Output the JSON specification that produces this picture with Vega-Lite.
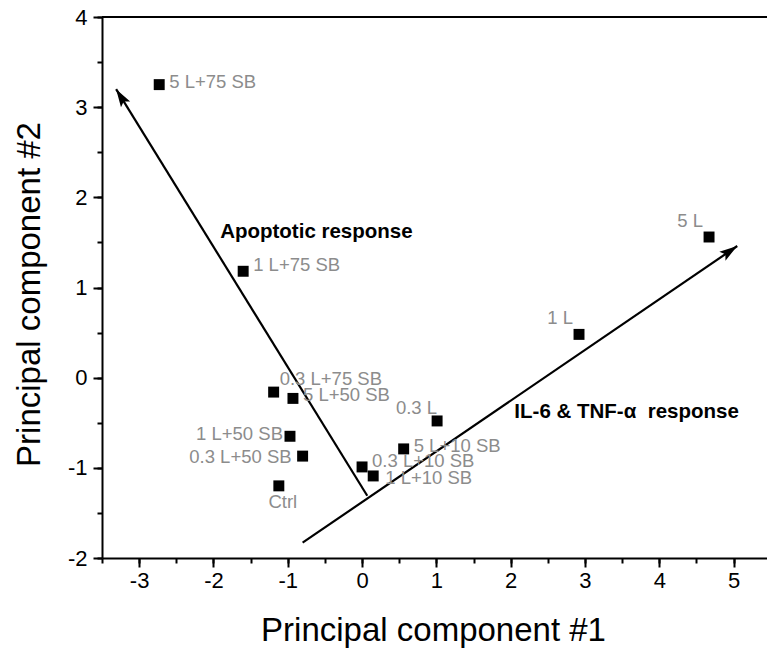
{
  "$schema": "https://vega.github.io/schema/vega-lite/v6.json",
  "width": 665,
  "height": 541,
  "autosize": {"type": "none"},
  "padding": {"left": 102, "top": 17, "right": 0, "bottom": 104},
  "background": "white",
  "config": {
    "view": {"stroke": null},
    "font": "Liberation Sans",
    "axis": {"grid": false, "domainColor": "black", "tickColor": "black", "labelColor": "black", "titleColor": "black", "domainWidth": 2, "tickWidth": 2, "labelFont": "Liberation Sans", "titleFont": "Liberation Sans", "titleFontWeight": "normal"}
  },
  "datasets": {
    "pts": [
      {"label": "5 L+75 SB", "pc1": -2.73, "pc2": 3.25},
      {"label": "1 L+75 SB", "pc1": -1.60, "pc2": 1.18},
      {"label": "0.3 L+75 SB", "pc1": -1.19, "pc2": -0.16},
      {"label": "5 L+50 SB", "pc1": -0.93, "pc2": -0.23},
      {"label": "1 L+50 SB", "pc1": -0.97, "pc2": -0.65},
      {"label": "0.3 L+50 SB", "pc1": -0.80, "pc2": -0.87},
      {"label": "Ctrl", "pc1": -1.12, "pc2": -1.20},
      {"label": "0.3 L+10 SB", "pc1": 0.00, "pc2": -0.99},
      {"label": "1 L+10 SB", "pc1": 0.15, "pc2": -1.09},
      {"label": "5 L+10 SB", "pc1": 0.56, "pc2": -0.79},
      {"label": "0.3 L", "pc1": 1.01, "pc2": -0.48},
      {"label": "1 L", "pc1": 2.92, "pc2": 0.48},
      {"label": "5 L", "pc1": 4.67, "pc2": 1.56}
    ],
    "arrows": [
      {"name": "IL-6", "x1": -0.80, "y1": -1.83, "x2": 5.05, "y2": 1.46},
      {"name": "Apoptotic", "x1": 0.07, "y1": -1.31, "x2": -3.31, "y2": 3.20}
    ],
    "notes": [
      {"note": "Apoptotic response", "nx": -1.91, "ny": 1.62},
      {"note": "IL-6 & TNF-α\u00a0 response", "nx": 2.05, "ny": -0.38}
    ],
    "frame": [{"top": 4}]
  },
  "layer": [
    {
      "data": {"name": "frame"},
      "mark": {"type": "rule", "color": "black", "strokeWidth": 2},
      "encoding": {
        "y": {"field": "top", "type": "quantitative", "scale": {"domain": [-2, 4], "nice": false, "zero": false}, "axis": null}
      }
    },
    {
      "data": {"name": "arrows"},
      "mark": {"type": "rule", "color": "black", "strokeWidth": 2.2},
      "encoding": {
        "x": {"field": "x1", "type": "quantitative", "scale": {"domain": [-3.5, 5.45], "nice": false, "zero": false},
              "axis": {"orient": "bottom", "values": [-3.5, -3, -2.5, -2, -1.5, -1, -0.5, 0, 0.5, 1, 1.5, 2, 2.5, 3, 3.5, 4, 4.5, 5], "labels": false, "title": null, "domain": false, "tickSize": 5}},
        "y": {"field": "y1", "type": "quantitative", "scale": {"domain": [-2, 4], "nice": false, "zero": false},
              "axis": {"orient": "left", "values": [-2, -1.5, -1, -0.5, 0, 0.5, 1, 1.5, 2, 2.5, 3, 3.5, 4], "labels": false, "title": null, "domain": false, "tickSize": 5}},
        "x2": {"field": "x2"},
        "y2": {"field": "y2"}
      }
    },
    {
      "data": {"name": "arrows"},
      "transform": [{"filter": "datum.name === 'IL-6'"}],
      "mark": {"type": "point", "shape": "M0,0L0.3,1L0,0.8L-0.3,1Z", "filled": true, "color": "black", "opacity": 1, "size": 1296, "angle": 55.7},
      "encoding": {
        "x": {"field": "x2", "type": "quantitative", "axis": null},
        "y": {"field": "y2", "type": "quantitative", "axis": null}
      }
    },
    {
      "data": {"name": "arrows"},
      "transform": [{"filter": "datum.name === 'Apoptotic'"}],
      "mark": {"type": "point", "shape": "M0,0L0.3,1L0,0.8L-0.3,1Z", "filled": true, "color": "black", "opacity": 1, "size": 1296, "angle": 328.3},
      "encoding": {
        "x": {"field": "x2", "type": "quantitative", "axis": null},
        "y": {"field": "y2", "type": "quantitative", "axis": null}
      }
    },
    {
      "data": {"name": "pts"},
      "mark": {"type": "square", "color": "black", "filled": true, "opacity": 1, "size": 120},
      "encoding": {
        "x": {"field": "pc1", "type": "quantitative",
              "axis": {"orient": "bottom", "values": [-3, -2, -1, 0, 1, 2, 3, 4, 5], "labelExpr": "toString(datum.value)", "tickSize": 9, "labelFontSize": 22, "labelPadding": 3, "title": "Principal component #1", "titleFontSize": 33, "titleX": 331, "titleY": 82, "titleBaseline": "alphabetic", "titleAlign": "center", "labelFlush": false}},
        "y": {"field": "pc2", "type": "quantitative",
              "axis": {"orient": "left", "values": [-2, -1, 0, 1, 2, 3, 4], "labelExpr": "toString(datum.value)", "tickSize": 9, "labelFontSize": 22, "labelPadding": 6, "title": "Principal component #2", "titleFontSize": 33, "titleX": -63, "titleY": 277, "titleAngle": -90, "titleBaseline": "alphabetic", "titleAlign": "center", "labelFlush": false}}
      }
    },
    {
      "data": {"name": "pts"},
      "transform": [{"filter": {"field": "label", "oneOf": ["5 L+75 SB", "5 L+50 SB", "5 L+10 SB"]}}],
      "mark": {"type": "text", "align": "left", "baseline": "middle", "dx": 10, "dy": -3, "fontSize": 18.5, "color": "#8c8c8c"},
      "encoding": {"x": {"field": "pc1", "type": "quantitative", "axis": null}, "y": {"field": "pc2", "type": "quantitative", "axis": null}, "text": {"field": "label"}}
    },
    {
      "data": {"name": "pts"},
      "transform": [{"filter": {"field": "label", "oneOf": ["1 L+75 SB", "0.3 L+10 SB"]}}],
      "mark": {"type": "text", "align": "left", "baseline": "middle", "dx": 10, "dy": -6, "fontSize": 18.5, "color": "#8c8c8c"},
      "encoding": {"x": {"field": "pc1", "type": "quantitative", "axis": null}, "y": {"field": "pc2", "type": "quantitative", "axis": null}, "text": {"field": "label"}}
    },
    {
      "data": {"name": "pts"},
      "transform": [{"filter": {"field": "label", "oneOf": ["1 L+10 SB"]}}],
      "mark": {"type": "text", "align": "left", "baseline": "middle", "dx": 12, "dy": 2, "fontSize": 18.5, "color": "#8c8c8c"},
      "encoding": {"x": {"field": "pc1", "type": "quantitative", "axis": null}, "y": {"field": "pc2", "type": "quantitative", "axis": null}, "text": {"field": "label"}}
    },
    {
      "data": {"name": "pts"},
      "transform": [{"filter": {"field": "label", "oneOf": ["0.3 L+75 SB"]}}],
      "mark": {"type": "text", "align": "left", "baseline": "middle", "dx": 6, "dy": -13, "fontSize": 18.5, "color": "#8c8c8c"},
      "encoding": {"x": {"field": "pc1", "type": "quantitative", "axis": null}, "y": {"field": "pc2", "type": "quantitative", "axis": null}, "text": {"field": "label"}}
    },
    {
      "data": {"name": "pts"},
      "transform": [{"filter": {"field": "label", "oneOf": ["1 L+50 SB"]}}],
      "mark": {"type": "text", "align": "right", "baseline": "middle", "dx": -7, "dy": -2, "fontSize": 18.5, "color": "#8c8c8c"},
      "encoding": {"x": {"field": "pc1", "type": "quantitative", "axis": null}, "y": {"field": "pc2", "type": "quantitative", "axis": null}, "text": {"field": "label"}}
    },
    {
      "data": {"name": "pts"},
      "transform": [{"filter": {"field": "label", "oneOf": ["0.3 L+50 SB"]}}],
      "mark": {"type": "text", "align": "right", "baseline": "middle", "dx": -11, "dy": 1, "fontSize": 18.5, "color": "#8c8c8c"},
      "encoding": {"x": {"field": "pc1", "type": "quantitative", "axis": null}, "y": {"field": "pc2", "type": "quantitative", "axis": null}, "text": {"field": "label"}}
    },
    {
      "data": {"name": "pts"},
      "transform": [{"filter": {"field": "label", "oneOf": ["Ctrl"]}}],
      "mark": {"type": "text", "align": "center", "baseline": "middle", "dx": 4, "dy": 16, "fontSize": 18.5, "color": "#8c8c8c"},
      "encoding": {"x": {"field": "pc1", "type": "quantitative", "axis": null}, "y": {"field": "pc2", "type": "quantitative", "axis": null}, "text": {"field": "label"}}
    },
    {
      "data": {"name": "pts"},
      "transform": [{"filter": {"field": "label", "oneOf": ["0.3 L"]}}],
      "mark": {"type": "text", "align": "right", "baseline": "middle", "dx": 0, "dy": -13, "fontSize": 18.5, "color": "#8c8c8c"},
      "encoding": {"x": {"field": "pc1", "type": "quantitative", "axis": null}, "y": {"field": "pc2", "type": "quantitative", "axis": null}, "text": {"field": "label"}}
    },
    {
      "data": {"name": "pts"},
      "transform": [{"filter": {"field": "label", "oneOf": ["1 L", "5 L"]}}],
      "mark": {"type": "text", "align": "right", "baseline": "middle", "dx": -6, "dy": -16, "fontSize": 18.5, "color": "#8c8c8c"},
      "encoding": {"x": {"field": "pc1", "type": "quantitative", "axis": null}, "y": {"field": "pc2", "type": "quantitative", "axis": null}, "text": {"field": "label"}}
    },
    {
      "data": {"name": "notes"},
      "mark": {"type": "text", "align": "left", "baseline": "middle", "fontSize": 20.5, "fontWeight": "bold", "color": "black"},
      "encoding": {"x": {"field": "nx", "type": "quantitative", "axis": null}, "y": {"field": "ny", "type": "quantitative", "axis": null}, "text": {"field": "note"}}
    }
  ],
  "resolve": {"axis": {"x": "independent", "y": "independent"}}
}
